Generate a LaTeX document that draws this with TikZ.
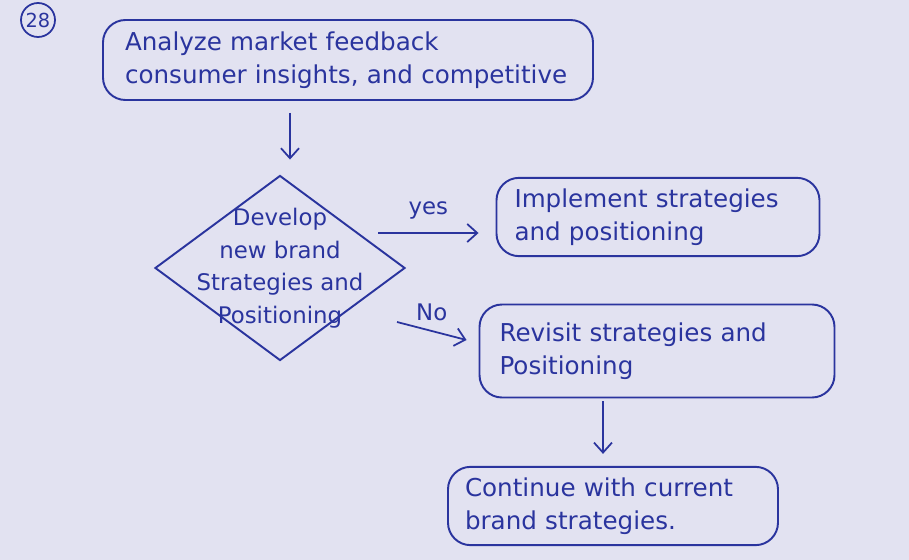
\documentclass[tikz,border=0pt]{standalone}
\usepackage{fontspec}
\setmainfont{DejaVu Sans}
\usepackage{xcolor}
\usetikzlibrary{shapes.geometric, arrows.meta, positioning, calc}
\definecolor{inkBlue}{RGB}{42, 52, 158}
\definecolor{paperLilac}{RGB}{226, 226, 241}

\begin{document}
\begin{tikzpicture}[
            box/.style={rectangle, rounded corners=0.45cm, draw=inkBlue, line width=1.1pt,
                        text=inkBlue, font=\fontsize{14}{19}\selectfont, align=left, inner ysep=6pt},
            decision/.style={diamond, draw=inkBlue, line width=1.1pt, text=inkBlue,
                        font=\fontsize{13}{18.5}\selectfont, align=center, inner sep=-0.6cm,
                        minimum width=5cm, minimum height=3.7cm},
            arrow/.style={-{Straight Barb[length=2mm, width=3.6mm]}, line width=1pt, inkBlue},
            lbl/.style={font=\fontsize{13}{15}\selectfont, text=inkBlue}
        ]
            \fill[paperLilac] (0,0) rectangle (18.18,-11.2);
            \useasboundingbox (0,0) rectangle (18.18,-11.2);

            \node[circle, draw=inkBlue, line width=1pt, text=inkBlue, inner sep=1pt,
                  minimum size=0.68cm, font=\fontsize{11}{13}\selectfont] (num) at (0.76,-0.40) {28};

            \node[box, inner xsep=0.44cm, text width=8.92cm, minimum height=1.6cm] (analyze) at (6.96,-1.20)
                {Analyze market feedback\\consumer insights, and competitive};
            \node[decision] (develop) at (5.6,-5.36)
                {Develop\\new brand\\Strategies and\\Positioning};
            \node[box, inner xsep=0.36cm, text width=5.74cm, minimum height=1.5cm] (implement) at (13.16,-4.34)
                {Implement strategies\\and positioning};
            \node[box, inner xsep=0.4cm, text width=6.3cm, minimum height=1.86cm] (revisit) at (13.14,-7.02)
                {Revisit strategies and\\Positioning};
            \node[box, inner xsep=0.34cm, text width=5.92cm, minimum height=1.28cm] (continue) at (12.26,-10.12)
                {Continue with current\\brand strategies.};

            \draw[arrow, shorten <=0.24cm, shorten >=0.3cm] ([xshift=0.2cm]analyze.south -| develop.north)
                -- ([xshift=0.2cm]develop.north);
            \draw[arrow] ([shift={(1.96,0.7)}]develop.center) -- node[lbl, above=4pt] {yes}
                ([shift={(-0.34,-0.32)}]implement.west);
            \draw[arrow] ([shift={(2.34,-1.08)}]develop.center) -- node[lbl, above=2pt] {No}
                ([shift={(-0.24,0.22)}]revisit.west);
            \draw[arrow, shorten <=0.06cm, shorten >=0.24cm] ([xshift=-0.2cm]revisit.south -| continue.north)
                -- ([xshift=-0.2cm]continue.north);
        \end{tikzpicture}
\end{document}
